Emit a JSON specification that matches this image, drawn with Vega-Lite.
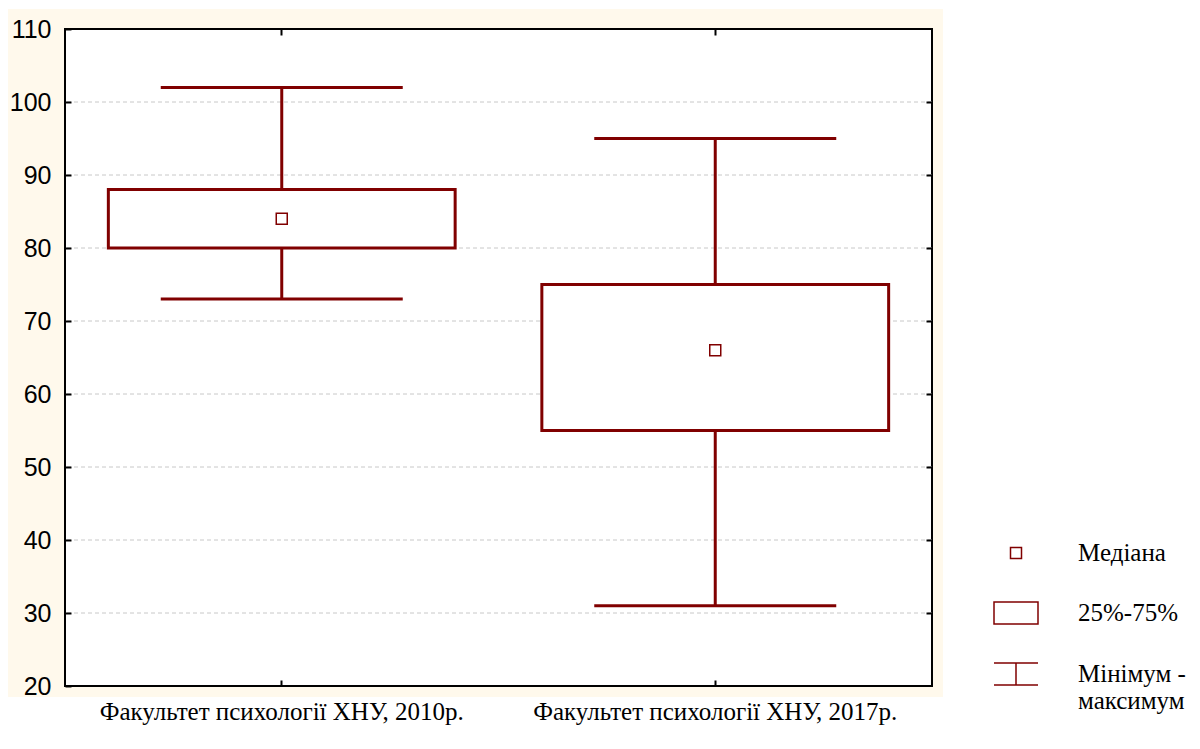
{
  "$schema": "https://vega.github.io/schema/vega-lite/v6.json",
  "width": 867,
  "height": 657,
  "autosize": {"type": "none"},
  "padding": {"left": 65, "top": 29, "right": 268, "bottom": 63},
  "background": "white",
  "config": {"view": {"stroke": null}},
  "datasets": {
    "stats": [
      {"group": "Факультет психології ХНУ, 2010р.", "min": 73, "q1": 80, "median": 84, "q3": 88, "max": 102},
      {"group": "Факультет психології ХНУ, 2017р.", "min": 31, "q1": 55, "median": 66, "q3": 75, "max": 95}
    ],
    "grid": [{"v": 30}, {"v": 40}, {"v": 50}, {"v": 60}, {"v": 70}, {"v": 80}, {"v": 90}, {"v": 100}],
    "legend": [{"item": "Медіана"}, {"item": "25%-75%"}, {"item": "Мінімум - максимум"}],
    "one": [{}]
  },
  "resolve": {"axis": {"x": "independent", "y": "independent"}},
  "layer": [
    {
      "data": {"name": "legend"},
      "mark": {"type": "point", "filled": false, "stroke": "#800000", "strokeWidth": 1.5},
      "encoding": {
        "x": {"datum": "Факультет психології ХНУ, 2010р.", "type": "nominal", "axis": null,
              "scale": {"type": "band", "domain": ["Факультет психології ХНУ, 2010р.", "Факультет психології ХНУ, 2017р."], "paddingInner": 0, "paddingOuter": 0}},
        "y": {"datum": 60, "type": "quantitative", "axis": null, "scale": {"domain": [20, 110], "nice": false, "zero": false}},
        "shape": {
          "field": "item", "type": "nominal",
          "scale": {"domain": ["Медіана", "25%-75%", "Мінімум - максимум"],
                    "range": ["M-0.25,-0.25H0.25V0.25H-0.25Z", "M-1,-0.5H1V0.5H-1Z", "M-1,-0.5H1M0,-0.5V0.5M-1,0.5H1"]},
          "legend": {
            "title": null, "orient": "none", "legendX": 928, "legendY": 501, "padding": 0,
            "symbolSize": 1936, "symbolStrokeWidth": 1.5, "symbolStrokeColor": "#800000", "symbolFillColor": "transparent",
            "symbolOpacity": 1,
            "labelFont": "Liberation Serif", "labelFontSize": 25, "labelColor": "black", "labelOffset": 39, "labelLimit": 300,
            "rowPadding": 24,
            "labelExpr": "datum.label == 'Мінімум - максимум' ? ['Мінімум -', 'максимум'] : datum.label"
          }
        }
      }
    },
    {
      "data": {"name": "one"},
      "mark": {"type": "rect", "fill": "#fff9ec"},
      "encoding": {
        "x": {"datum": "Факультет психології ХНУ, 2010р.", "type": "nominal", "bandPosition": -0.1315,
              "axis": {"orient": "top", "title": null, "labels": false, "domain": false, "grid": false, "ticks": true, "tickSize": -6, "tickWidth": 2, "tickColor": "black", "zindex": 1}},
        "x2": {"datum": "Факультет психології ХНУ, 2017р.", "bandPosition": 1.0254},
        "y": {"datum": 112.74, "type": "quantitative",
              "axis": {"orient": "right", "title": null, "labels": false, "domain": false, "grid": false, "values": [30, 40, 50, 60, 70, 80, 90, 100], "tickSize": -6, "tickWidth": 2, "tickColor": "black", "zindex": 1}},
        "y2": {"datum": 18.49}
      }
    },
    {
      "data": {"name": "one"},
      "mark": {"type": "rect", "fill": "white", "stroke": "black", "strokeWidth": 2},
      "encoding": {
        "x": {"datum": "Факультет психології ХНУ, 2010р.", "type": "nominal", "bandPosition": 0,
              "axis": {"orient": "bottom", "title": null, "labelAngle": 0, "labelFont": "Liberation Serif", "labelFontSize": 25, "labelColor": "black", "labelLimit": 500, "labelPadding": 19, "domain": false, "grid": false, "tickSize": -6, "tickWidth": 2, "tickColor": "black", "zindex": 1}},
        "x2": {"datum": "Факультет психології ХНУ, 2017р.", "bandPosition": 1},
        "y": {"datum": 20, "type": "quantitative",
              "axis": {"orient": "left", "title": null, "values": [20, 30, 40, 50, 60, 70, 80, 90, 100, 110], "labelFont": "Liberation Sans", "labelFontSize": 25, "labelColor": "black", "labelPadding": 20, "domain": false, "grid": false, "tickSize": -6, "tickWidth": 2, "tickColor": "black", "zindex": 1}},
        "y2": {"datum": 110}
      }
    },
    {
      "data": {"name": "grid"},
      "mark": {"type": "rule", "stroke": "#c8c8c8", "strokeWidth": 1, "strokeDash": [4, 3]},
      "encoding": {"y": {"field": "v", "type": "quantitative", "axis": null}}
    },
    {
      "data": {"name": "stats"},
      "mark": {"type": "rule", "stroke": "#800000", "strokeWidth": 3},
      "encoding": {
        "x": {"field": "group", "type": "nominal", "axis": null},
        "y": {"field": "min", "type": "quantitative", "axis": null},
        "y2": {"field": "max"}
      }
    },
    {
      "data": {"name": "stats"},
      "transform": [{"fold": ["min", "max"], "as": ["k", "val"]}],
      "mark": {"type": "tick", "orient": "horizontal", "color": "#800000", "size": 242, "thickness": 3, "opacity": 1},
      "encoding": {
        "x": {"field": "group", "type": "nominal", "axis": null},
        "y": {"field": "val", "type": "quantitative", "axis": null}
      }
    },
    {
      "data": {"name": "stats"},
      "mark": {"type": "bar", "fill": "white", "stroke": "#800000", "strokeWidth": 3, "width": {"band": 0.8}},
      "encoding": {
        "x": {"field": "group", "type": "nominal", "axis": null},
        "y": {"field": "q1", "type": "quantitative", "axis": null},
        "y2": {"field": "q3"}
      }
    },
    {
      "data": {"name": "stats"},
      "mark": {"type": "point", "shape": "square", "size": 121, "filled": false, "fill": "white", "stroke": "#800000", "strokeWidth": 1.5, "opacity": 1},
      "encoding": {
        "x": {"field": "group", "type": "nominal", "axis": null},
        "y": {"field": "median", "type": "quantitative", "axis": null}
      }
    }
  ]
}
